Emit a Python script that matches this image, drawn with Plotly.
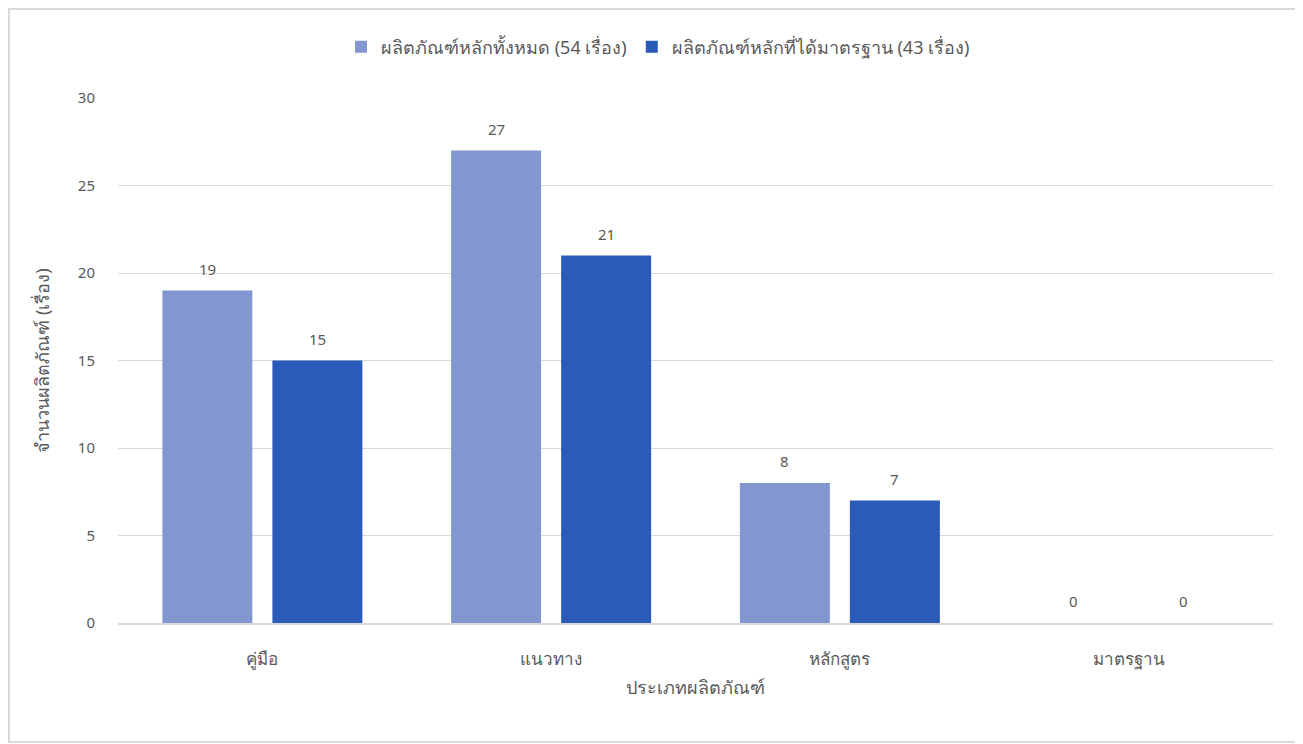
import plotly.graph_objects as go

categories = ["คู่มือ", "แนวทาง", "หลักสูตร", "มาตรฐาน"]
series_all_name = "ผลิตภัณฑ์หลักทั้งหมด (54 เรื่อง)"
series_all = [19, 27, 8, 0]
series_std_name = "ผลิตภัณฑ์หลักที่ได้มาตรฐาน (43 เรื่อง)"
series_std = [15, 21, 7, 0]
y_ticks = [0, 5, 10, 15, 20, 25, 30]

# page has an 8px body margin; figure coords = page coords - 8
W, H = 1295, 736
ML, MR, MT, MB = 110, 30, 90, 121
PW, PH = W - ML - MR, H - MT - MB

FONT = "Noto Sans, Tahoma, sans-serif"
GREY = "#595959"

fig = go.Figure()
fig.add_trace(go.Bar(
    x=categories, y=series_all, name=series_all_name,
    marker=dict(color="#8296D0", line=dict(color="#6F83BA", width=0)),
))
fig.add_trace(go.Bar(
    x=categories, y=series_std, name=series_std_name,
    marker=dict(color="#2A5BB8", line=dict(color="#21499A", width=0)),
))

# data labels above bars
for vals, shift in ((series_all, -55), (series_std, 55)):
    for c, v in zip(categories, vals):
        fig.add_annotation(x=c, y=v, text=str(v), showarrow=False,
                           xshift=shift, yshift=22, yanchor="middle",
                           font=dict(size=15, color=GREY, family=FONT))

def px_x(p):
    return (p - ML) / PW

def px_y(p):
    return (H - MB - p) / PH

fig.add_shape(type="rect", xref="paper", yref="paper",
              x0=px_x(1), x1=px_x(1292), y0=px_y(734), y1=px_y(1),
              line=dict(color="#D9D9D9", width=2), fillcolor="rgba(0,0,0,0)",
              layer="below")

fig.update_layout(
    width=W, height=H,
    margin=dict(l=ML, r=MR, t=MT, b=MB),
    paper_bgcolor="white", plot_bgcolor="white",
    font=dict(family=FONT, color=GREY, size=14),
    barmode="group", bargap=0.238, bargroupgap=0.182,
    showlegend=True,
    legend=dict(orientation="h", x=px_x(650), xanchor="center", y=px_y(39), yanchor="middle",
                font=dict(size=18, color=GREY), itemwidth=30, traceorder="normal"),
    xaxis=dict(
        title=dict(text="ประเภทผลิตภัณฑ์", font=dict(size=18, color=GREY), standoff=12),
        tickfont=dict(size=17, color=GREY),
        showline=True, linecolor="#D9D9D9", linewidth=2,
        ticks="", showgrid=False, ticklabelstandoff=20,
    ),
    yaxis=dict(
        title=dict(text="จำนวนผลิตภัณฑ์ (เรื่อง)", font=dict(size=18, color=GREY), standoff=23),
        range=[0, 30], tickvals=y_ticks, tickfont=dict(size=15, color=GREY),
        showgrid=True, gridcolor="#D9D9D9", gridwidth=1,
        zeroline=False, ticks="", ticklabelstandoff=22,
    ),
)

fig.write_html("out.html")
